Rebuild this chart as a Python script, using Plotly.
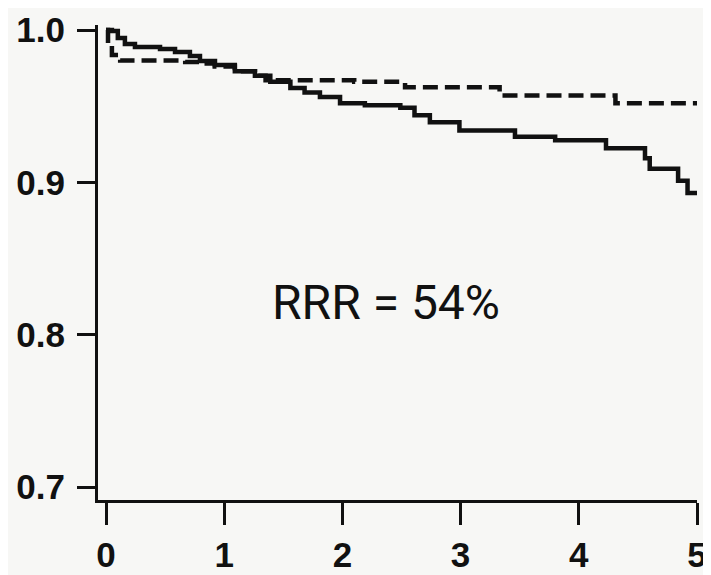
import plotly.graph_objects as go

# Solid curve (step function) – years vs. event-free proportion
solid_years = [0.0, 0.05, 0.10, 0.16, 0.245, 0.457, 0.584, 0.71, 0.795, 0.922, 1.09, 1.26,
               1.39, 1.56, 1.68, 1.81, 1.98, 2.19, 2.49, 2.61, 2.74, 2.99, 3.46, 3.80,
               4.23, 4.56, 4.60, 4.84, 4.92, 5.0]
solid_surv = [1.000, 0.9993, 0.9947, 0.9908, 0.9888, 0.9875, 0.9855, 0.983, 0.9796, 0.977,
              0.973, 0.970, 0.966, 0.962, 0.959, 0.956, 0.952, 0.9507, 0.949, 0.944, 0.9395,
              0.934, 0.930, 0.9276, 0.9224, 0.9158, 0.909, 0.901, 0.893, 0.893]

# Dashed curve (step function)
dashed_years = [0.0, 0.017, 0.05, 0.12, 0.67, 0.795, 0.92, 1.09, 1.26, 1.35, 2.10, 2.53,
                3.33, 4.31, 5.0]
dashed_surv = [1.000, 0.990, 0.9836, 0.980, 0.979, 0.978, 0.976, 0.973, 0.970, 0.967,
               0.966, 0.9625, 0.957, 0.952, 0.952]

x_ticks = [0, 1, 2, 3, 4, 5]
y_ticks = [0.7, 0.8, 0.9, 1.0]
y_tick_labels = ["0.7", "0.8", "0.9", "1.0"]
annotation_text = "RRR = 54%"

fig = go.Figure()
fig.add_trace(go.Scatter(x=dashed_years, y=dashed_surv, mode="lines",
                         line=dict(color="#111111", width=4.5, dash="15px,7px", shape="hv"),
                         showlegend=False, hoverinfo="skip"))
fig.add_trace(go.Scatter(x=solid_years, y=solid_surv, mode="lines",
                         line=dict(color="#111111", width=4.5, shape="hv"),
                         showlegend=False, hoverinfo="skip"))

fig.add_annotation(x=2.373, y=0.821, text=annotation_text, showarrow=False,
                   xanchor="center", yanchor="middle",
                   font=dict(family="Roboto, Liberation Sans, Arial",
                             size=48, color="#111111"))

tick_font = dict(family="Liberation Sans, Arial, sans-serif", size=35, color="#111111",
                 weight="bold")

fig.update_layout(
    width=703, height=567,
    margin=dict(l=90, r=14, t=17, b=75),
    paper_bgcolor="#f7f7f5",
    plot_bgcolor="#f7f7f5",
    xaxis=dict(range=[-0.0677, 5.0], tickvals=x_ticks, ticktext=[str(v) for v in x_ticks],
               showgrid=False, zeroline=False, showline=True, linecolor="#111111", linewidth=3,
               ticks="outside", ticklen=22, tickwidth=3, tickcolor="#111111",
               tickfont=tick_font, ticklabelstandoff=0, automargin=False,
               ticklabeloverflow="allow"),
    yaxis=dict(range=[0.6915, 1.0033], tickvals=y_ticks, ticktext=y_tick_labels,
               showgrid=False, zeroline=False, showline=True, linecolor="#111111", linewidth=3,
               ticks="outside", ticklen=18, tickwidth=3, tickcolor="#111111",
               tickfont=tick_font, ticklabelstandoff=5, automargin=False,
               ticklabeloverflow="allow"),
)

fig.write_html("out.html")
